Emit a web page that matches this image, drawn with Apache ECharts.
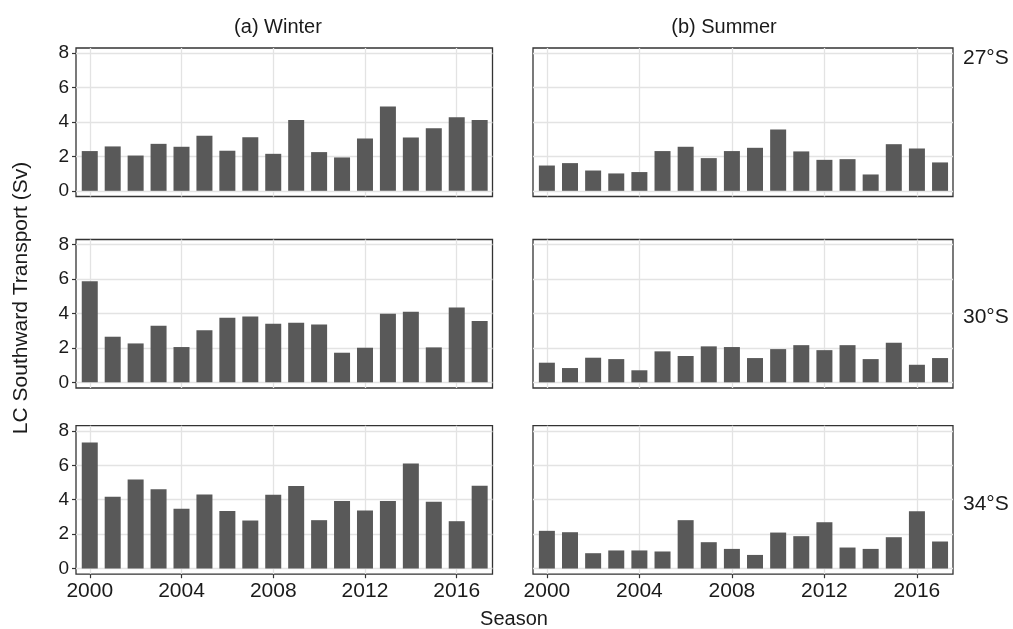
<!DOCTYPE html>
<html>
<head>
<meta charset="utf-8">
<script src="https://cdn.jsdelivr.net/npm/echarts@6/dist/echarts.min.js"></script>
<style>
html, body { margin: 0; padding: 0; background: #fff; }
#container { width: 1013px; height: 629px; }
</style>
</head>
<body>
<div id="container"></div>
<script>
var dom = document.getElementById("container");
var myChart = echarts.init(dom);

var years = [2000, 2001, 2002, 2003, 2004, 2005, 2006, 2007, 2008, 2009,
             2010, 2011, 2012, 2013, 2014, 2015, 2016, 2017];

// LC southward transport (Sv)
var winter27 = [2.31, 2.58, 2.05, 2.73, 2.56, 3.20, 2.33, 3.12, 2.15, 4.11,
                2.25, 1.94, 3.04, 4.90, 3.10, 3.64, 4.28, 4.11];
var summer27 = [1.47, 1.61, 1.18, 1.01, 1.09, 2.31, 2.56, 1.90, 2.31, 2.50,
                3.57, 2.29, 1.80, 1.84, 0.95, 2.71, 2.46, 1.65];
var winter30 = [5.87, 2.65, 2.26, 3.29, 2.05, 3.03, 3.75, 3.83, 3.40, 3.46,
                3.36, 1.72, 2.01, 3.98, 4.10, 2.03, 4.35, 3.56];
var summer30 = [1.14, 0.83, 1.43, 1.35, 0.70, 1.80, 1.53, 2.09, 2.05, 1.41,
                1.93, 2.16, 1.87, 2.16, 1.35, 2.30, 1.02, 1.41];
var winter34 = [7.33, 4.17, 5.17, 4.61, 3.47, 4.30, 3.35, 2.79, 4.28, 4.79,
                2.81, 3.93, 3.37, 3.93, 6.10, 3.88, 2.75, 4.81];
var summer34 = [2.19, 2.11, 0.89, 1.05, 1.05, 0.99, 2.81, 1.53, 1.14, 0.79,
                2.09, 1.88, 2.69, 1.22, 1.14, 1.82, 3.33, 1.57];

var seasonTitles = ['(a) Winter', '(b) Summer'];
var latLabels = ['27°S', '30°S', '34°S'];
var xTicks = [2000, 2004, 2008, 2012, 2016];
var yTicks = [0, 2, 4, 6, 8];

var panels = [
    [winter27, summer27],
    [winter30, summer30],
    [winter34, summer34]
];

var colLeft = [76, 533];
var colWidth = [416.5, 420];
var rowTop = [48, 239.5, 425.7];
var rowHeight = 148.5;

var FONT = '"Liberation Sans", Arial, sans-serif';
var TXT = '#1a1a1a';
var grids = [], xAxes = [], yAxes = [], series = [];

panels.forEach(function (row, r) {
    row.forEach(function (vals, c) {
        var i = grids.length;
        var bottomRow = r === panels.length - 1;
        grids.push({
            left: colLeft[c], top: rowTop[r],
            width: colWidth[c], height: rowHeight,
            show: true, borderColor: '#333', borderWidth: 1.3,
            backgroundColor: 'transparent'
        });
        xAxes.push({
            type: 'value', gridIndex: i,
            min: 1999.4, max: 2017.56,
            axisLine: { show: false, onZero: false },
            axisTick: { show: bottomRow, customValues: xTicks, length: 4,
                        lineStyle: { color: '#333', width: 1.2 } },
            axisLabel: { show: bottomRow, customValues: xTicks, margin: 7,
                         fontSize: 21, color: TXT, fontFamily: FONT,
                         formatter: function (v) { return String(v); } },
            splitLine: { show: true, lineStyle: { color: '#e3e3e3', width: 1.3 } }
        });
        yAxes.push({
            type: 'value', gridIndex: i,
            min: -0.33, max: 8.3,
            axisLine: { show: false },
            axisTick: { show: c === 0, customValues: yTicks, length: 4,
                        lineStyle: { color: '#333', width: 1.2 } },
            axisLabel: { show: c === 0, customValues: yTicks, margin: 7,
                         fontSize: 19, color: TXT, fontFamily: FONT },
            splitLine: { show: true, lineStyle: { color: '#e3e3e3', width: 1.3 } }
        });
        series.push({
            type: 'bar', xAxisIndex: i, yAxisIndex: i,
            barWidth: 16,
            itemStyle: { color: '#595959' },
            data: years.map(function (y, k) { return [y, vals[k]]; })
        });
    });
});

var graphics = [
    { type: 'text', x: 278, y: 27, style: { text: seasonTitles[0], fontSize: 20, fontFamily: FONT, fill: TXT, align: 'center', verticalAlign: 'middle' } },
    { type: 'text', x: 724, y: 27, style: { text: seasonTitles[1], fontSize: 20, fontFamily: FONT, fill: TXT, align: 'center', verticalAlign: 'middle' } }
];
var latY = [58, 317, 504];
latLabels.forEach(function (t, r) {
    graphics.push({
        type: 'text', x: 963, y: latY[r],
        style: { text: t, fontSize: 21, fontFamily: FONT, fill: TXT, align: 'left', verticalAlign: 'middle' }
    });
});
graphics.push({
    type: 'text', x: 21, y: 298, rotation: Math.PI / 2,
    style: { text: 'LC Southward Transport (Sv)', fontSize: 21, fontFamily: FONT, fill: TXT, align: 'center', verticalAlign: 'middle' }
});
graphics.push({
    type: 'text', x: 514, y: 619,
    style: { text: 'Season', fontSize: 20, fontFamily: FONT, fill: TXT, align: 'center', verticalAlign: 'middle' }
});

var option = {
    animation: false,
    backgroundColor: '#fff',
    grid: grids,
    xAxis: xAxes,
    yAxis: yAxes,
    series: series,
    graphic: graphics
};
myChart.setOption(option);
</script>
</body>
</html>
